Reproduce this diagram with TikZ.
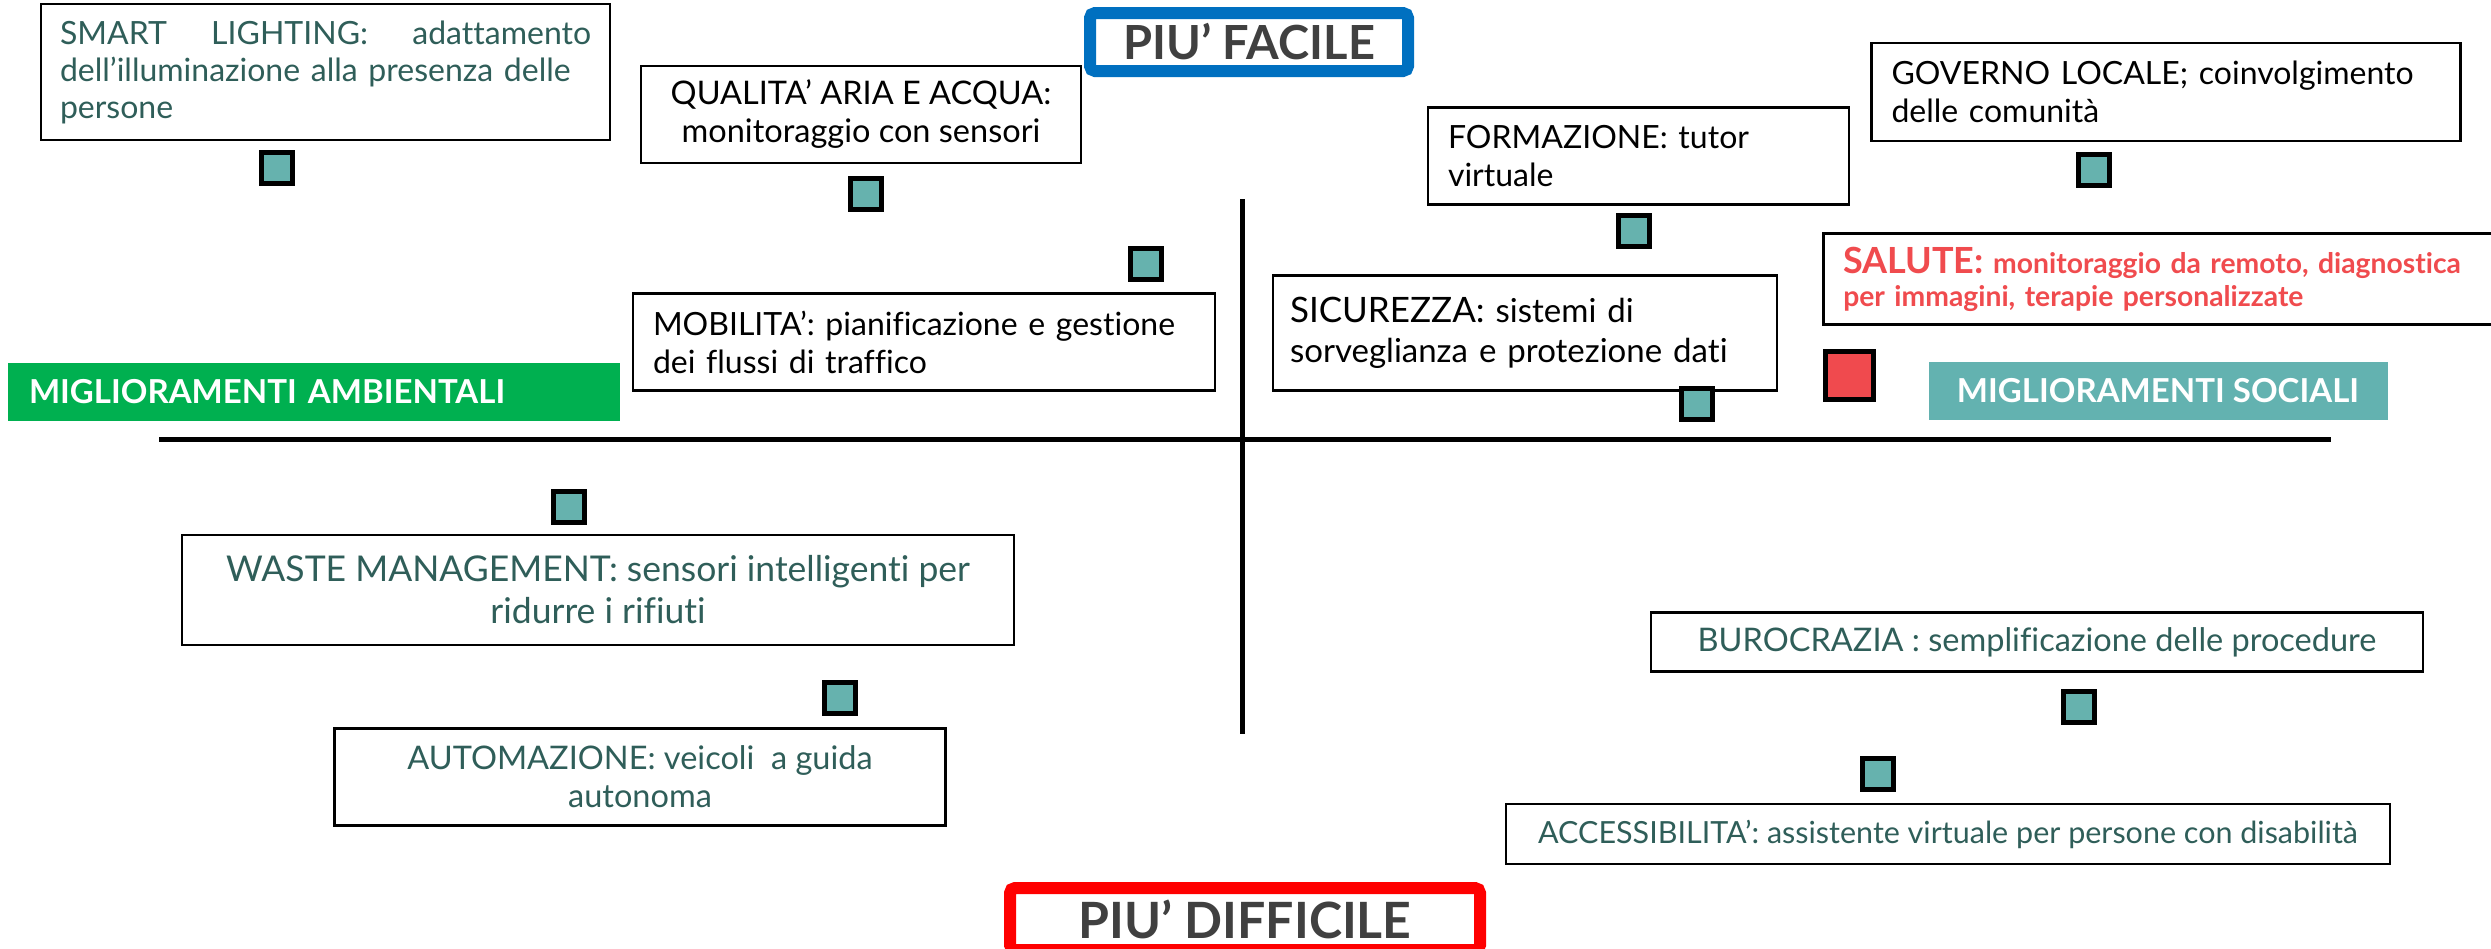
\documentclass[tikz,border=0pt]{standalone}
\usepackage{fontspec}
\setmainfont{Lato}[Ligatures={TeX,NoCommon}]

\definecolor{tealtext}{HTML}{2F5E59}
\definecolor{chipfill}{HTML}{66B2AE}
\definecolor{redchip}{HTML}{F04A4E}
\definecolor{salred}{HTML}{F04B4E}
\definecolor{envgreen}{HTML}{00B050}
\definecolor{socteal}{HTML}{63B2B0}
\definecolor{easyblue}{HTML}{0070C0}
\definecolor{hardred}{HTML}{FF0000}
\definecolor{headgray}{HTML}{404040}

\begin{document}
\begin{tikzpicture}[
      x=1pt, y=-1pt,
      box/.style={draw, line width=2.5pt, inner xsep=20pt, inner ysep=0pt,
        align=left, font=\fontsize{32.5}{38}\selectfont},
      note/.style={box, text=tealtext},
      chip/.style={draw, line width=5pt, fill=chipfill, minimum size=31pt, inner sep=0pt},
      banner/.style={rounded corners=5pt, line width=12pt, fill=white, text=headgray,
        inner sep=0pt, font=\bfseries\fontsize{47}{52}\selectfont},
      side/.style={text=white, inner sep=0pt, minimum height=58pt,
        font=\bfseries\fontsize{33}{40}\selectfont}]

    \clip (0,0) rectangle (2491,948);
    \fill[white] (0,0) rectangle (2491,948);

    % axes
    \coordinate (axW) at (159,439);
    \coordinate (axE) at (2331,439);
    \coordinate (axN) at (1242,199);
    \coordinate (axS) at (1242,734);
    \draw[line width=5pt] (axW) -- (axE);
    \draw[line width=5pt] (axN) -- (axS);

    % ends of the axes
    \node[banner, draw=easyblue, minimum width=318pt, minimum height=58pt] (easy) at (1249,42) {PIU’ FACILE};
    \node[banner, draw=hardred, minimum width=470pt, minimum height=62pt,
      font=\bfseries\fontsize{50}{55}\selectfont] (hard) at (1245,919) {PIU’ DIFFICILE};
    \node[side, fill=envgreen, text width=570pt, minimum width=612pt, align=left] (env) at (314,392) {MIGLIORAMENTI AMBIENTALI};
    \node[side, fill=socteal, minimum width=459pt] (soc) at (2158,391) {MIGLIORAMENTI SOCIALI};

    % upper left
    \node[note, text width=531pt, inner xsep=19pt, minimum height=136pt,
      font=\fontsize{32}{37}\selectfont] (smart) at (325.5,72)
      {SMART\hfill LIGHTING:\hfill adattamento\\dell’illuminazione alla presenza delle\\persone};
    \node[box, minimum width=440pt, minimum height=97pt, align=center] (air) at (861,114.5)
      {QUALITA’ ARIA E ACQUA:\\monitoraggio con sensori};
    \node[box, text width=542pt, minimum height=97pt, font=\fontsize{32}{38}\selectfont] (mob) at (924,342)
      {MOBILITA’: pianificazione e gestione\\dei flussi di traffico};
    \node[chip] (ptSmart) at (277,168) {};
    \node[chip] (ptAir)   at (866,194) {};
    \node[chip] (ptMob)   at (1146,264) {};

    % upper right
    \node[box, text width=381pt, minimum height=97pt, font=\fontsize{32}{38}\selectfont] (edu) at (1638.5,156)
      {FORMAZIONE: tutor\\virtuale};
    \node[box, text width=549pt, minimum height=98pt, font=\fontsize{32}{38}\selectfont] (gov) at (2166,92)
      {GOVERNO LOCALE; coinvolgimento\\delle comunità};
    \node[box, text width=470pt, minimum height=115pt, inner xsep=17pt,
      font=\fontsize{33}{40}\selectfont] (sec) at (1525,333)
      {{\fontsize{35}{40}\selectfont SICUREZZA:} sistemi di\\sorveglianza e protezione dati};
    \node[box, anchor=west, text=salred, text width=660pt, minimum height=91pt,
      font=\bfseries\fontsize{28.3}{33}\selectfont] (health) at (1822,279)
      {{\fontsize{36}{33}\selectfont SALUTE:} monitoraggio da remoto, diagnostica\\per immagini, terapie personalizzate};
    \node[chip] (ptEdu) at (1634,231) {};
    \node[chip] (ptGov) at (2094,170) {};
    \node[chip] (ptSec) at (1697,404) {};
    \node[chip, fill=redchip, minimum size=48pt] (ptHealth) at (1849,375) {};

    % lower left
    \node[note, minimum width=832pt, minimum height=110pt, align=center,
      font=\fontsize{35.5}{42}\selectfont] (waste) at (598,590)
      {WASTE MANAGEMENT: sensori intelligenti per\\ridurre i rifiuti};
    \node[note, minimum width=611pt, minimum height=97pt, align=center] (auto) at (640,777)
      {AUTOMAZIONE: veicoli \ a guida\\autonoma};
    \node[chip] (ptWaste) at (569,507) {};
    \node[chip] (ptAuto)  at (840,698) {};

    % lower right
    \node[note, minimum width=772pt, minimum height=59pt, align=center] (bur) at (2037,642)
      {BUROCRAZIA : semplificazione delle procedure};
    \node[note, minimum width=884pt, minimum height=60pt, align=center,
      font=\fontsize{30.5}{36}\selectfont] (acc) at (1948,834)
      {ACCESSIBILITA’: assistente virtuale per persone con disabilità};
    \node[chip] (ptBur) at (2079,707) {};
    \node[chip] (ptAcc) at (1878,774) {};

  \end{tikzpicture}
\end{document}
